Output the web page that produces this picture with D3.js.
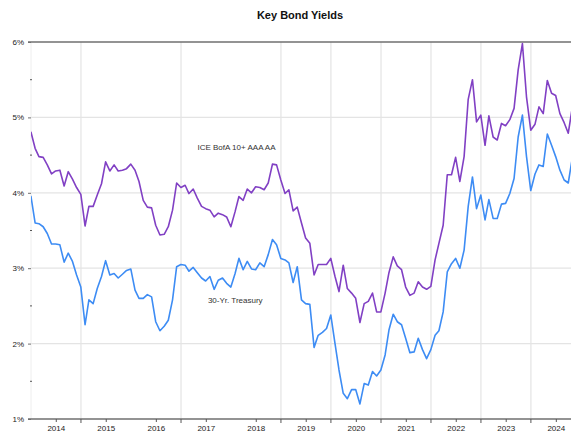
<!DOCTYPE html>
<html>
<head>
<meta charset="utf-8">
<script src="https://cdn.jsdelivr.net/npm/d3@7"></script>
<style>
  body { margin: 0; background: #fff; }
  text { font-family: "Liberation Sans", Arial, sans-serif; }
</style>
</head>
<body>
<svg id="chart" width="571" height="432"></svg>
<script>

// month-end yields, Dec 2013 .. Oct 2024
const iceBofa = [
  4.81, 4.59, 4.48, 4.47, 4.37, 4.25, 4.29, 4.30, 4.09, 4.28, 4.18, 4.07,
  3.98, 3.56, 3.82, 3.82, 3.97, 4.12, 4.41, 4.29, 4.37, 4.29, 4.30, 4.32,
  4.38, 4.30, 4.15, 3.90, 3.81, 3.80, 3.57, 3.44, 3.45, 3.55, 3.77, 4.13,
  4.07, 4.10, 3.99, 4.05, 3.93, 3.82, 3.79, 3.77, 3.68, 3.73, 3.71, 3.68,
  3.55, 3.75, 3.95, 3.90, 4.05, 4.00, 4.08, 4.07, 4.04, 4.13, 4.38, 4.37,
  4.17, 3.99, 4.04, 3.76, 3.81, 3.60, 3.40, 3.33, 2.91, 3.05, 3.05, 3.05,
  3.13, 2.89, 2.69, 3.04, 2.73, 2.67, 2.60, 2.28, 2.53, 2.56, 2.67, 2.42,
  2.42, 2.67, 2.94, 3.15, 3.03, 2.98, 2.75, 2.64, 2.67, 2.82, 2.75, 2.72,
  2.76, 3.11, 3.33, 3.57, 4.24, 4.24, 4.47, 4.15, 4.48, 5.24, 5.50, 4.94,
  5.03, 4.63, 5.02, 4.74, 4.70, 4.92, 4.89, 4.97, 5.12, 5.63, 5.98, 5.27,
  4.83, 4.91, 5.14, 5.05, 5.49, 5.32, 5.29, 5.05, 4.93, 4.79, 5.15
];

const treasury30 = [
  3.96, 3.60, 3.59, 3.55, 3.46, 3.32, 3.32, 3.31, 3.08, 3.20, 3.09, 2.91,
  2.75, 2.25, 2.58, 2.53, 2.73, 2.89, 3.10, 2.91, 2.93, 2.87, 2.92, 2.97,
  2.99, 2.71, 2.60, 2.60, 2.65, 2.62, 2.29, 2.17, 2.23, 2.31, 2.58, 3.02,
  3.05, 3.04, 2.96, 3.01, 2.94, 2.87, 2.83, 2.89, 2.72, 2.84, 2.87, 2.80,
  2.75, 2.93, 3.13, 2.98, 3.09, 2.99, 2.98, 3.07, 3.02, 3.18, 3.38, 3.31,
  3.13, 3.11, 3.07, 2.81, 3.02, 2.58, 2.53, 2.52, 1.95, 2.11, 2.15, 2.20,
  2.38, 2.00, 1.65, 1.34, 1.27, 1.39, 1.39, 1.20, 1.47, 1.45, 1.63, 1.57,
  1.65, 1.85, 2.18, 2.39, 2.29, 2.25, 2.07, 1.88, 1.89, 2.07, 1.92, 1.80,
  1.92, 2.11, 2.17, 2.42, 2.95, 3.06, 3.13, 3.00, 3.24, 3.82, 4.21, 3.79,
  3.97, 3.64, 3.91, 3.66, 3.66, 3.85, 3.86, 3.99, 4.19, 4.74, 5.03, 4.48,
  4.03, 4.25, 4.37, 4.35, 4.78, 4.63, 4.48, 4.30, 4.17, 4.13, 4.48
];

const seriesNames = ["ICE BofA 10+ AAA AA", "30-Yr. Treasury"];
const seriesColors = ["#8140c4", "#3d8cf4"];
const yearLabels = [2014, 2015, 2016, 2017, 2018, 2019, 2020, 2021, 2022, 2023, 2024];
const gridYears = [2015, 2017, 2019, 2020, 2021, 2022, 2023, 2024];
const yTicks = [1, 2, 3, 4, 5, 6];
const yMinor = [1.5, 2.5, 3.5, 4.5, 5.5];

// month-end dates: new Date(2014, i, 0) is the last day of the previous month
const dates = iceBofa.map((d, i) => new Date(2014, i, 0));

const svg = d3.select("#chart");
const plotLeft = 31, plotRight = 571, plotTop = 42, plotBottom = 419;

const x = d3.scaleTime()
        .domain([new Date(2014, 0, 1), new Date(2025, 0, 1)])
        .range([plotLeft, plotLeft + 550]);
const y = d3.scaleLinear().domain([1, 6]).range([plotBottom, plotTop]);

svg.append("defs").append("clipPath").attr("id", "plot")
        .append("rect")
        .attr("x", plotLeft).attr("y", 0)
        .attr("width", plotRight - plotLeft).attr("height", 432);

// grid
svg.append("g")
        .selectAll("line")
        .data(gridYears)
        .join("line")
        .attr("x1", d => x(new Date(d, 0, 1))).attr("x2", d => x(new Date(d, 0, 1)))
        .attr("y1", plotTop).attr("y2", plotBottom)
        .attr("stroke", "#e4e4e4").attr("stroke-width", 1.2)

svg.append("g")
        .selectAll("line")
        .data(yTicks.filter(d => d > 1 && d < 6))
        .join("line")
        .attr("x1", plotLeft).attr("x2", plotRight)
        .attr("y1", d => y(d)).attr("y2", d => y(d))
        .attr("stroke", "#e4e4e4").attr("stroke-width", 1.2)

svg.append("line")
        .attr("x1", plotLeft).attr("x2", plotLeft).attr("y1", plotTop).attr("y2", plotBottom)
        .attr("stroke", "#eeeeee")

// top and bottom frame lines
svg.selectAll(".frame")
        .data([1, 6])
        .join("line")
        .attr("class", "frame")
        .attr("x1", plotLeft - 3).attr("x2", plotRight)
        .attr("y1", d => y(d)).attr("y2", d => y(d))
        .attr("stroke", "#6f6f6f").attr("stroke-width", 1.4)

// y axis
const yAxis = svg.append("g")
        .attr("transform", `translate(${plotLeft}, 0)`)
        .call(d3.axisLeft(y).tickValues(yTicks).tickFormat(d => d + "%").tickSize(3).tickPadding(4))
yAxis.select(".domain").remove()
yAxis.selectAll("line").attr("stroke", "#6f6f6f")
yAxis.selectAll("text").attr("font-size", 8).attr("fill", "#222").attr("font-family", "Liberation Sans, Arial, sans-serif")

svg.append("g")
        .selectAll("line")
        .data(yMinor)
        .join("line")
        .attr("x1", plotLeft - 1).attr("x2", plotLeft + 1)
        .attr("y1", d => y(d)).attr("y2", d => y(d))
        .attr("stroke", "#555")

// x axis: labels mid-year, ticks mid-year and on grid years
const xAxis = svg.append("g")
        .attr("transform", `translate(0, ${plotBottom})`)
        .call(d3.axisBottom(x)
                .tickValues(yearLabels.map(d => new Date(d, 6, 1)))
                .tickFormat(d3.timeFormat("%Y"))
                .tickSize(3).tickPadding(3))
xAxis.select(".domain").remove()
xAxis.selectAll("line").attr("stroke", "#555")
xAxis.selectAll("text").attr("font-size", 8).attr("fill", "#222").attr("font-family", "Liberation Sans, Arial, sans-serif")

svg.append("g")
        .selectAll("line")
        .data(gridYears)
        .join("line")
        .attr("x1", d => x(new Date(d, 0, 1))).attr("x2", d => x(new Date(d, 0, 1)))
        .attr("y1", plotBottom).attr("y2", plotBottom + 4)
        .attr("stroke", "#555")

// lines
const line = d3.line()
        .x((d, i) => x(dates[i]))
        .y(d => y(d))

const lines = svg.append("g").attr("clip-path", "url(#plot)")

;[iceBofa, treasury30].forEach((s, idx) => {
        lines.append("path")
                .datum(s)
                .attr("d", line)
                .attr("fill", "none")
                .attr("stroke", seriesColors[idx])
                .attr("stroke-width", 1.6)
                .attr("stroke-linejoin", "round")
})

// series labels
const labelAt = [[new Date(2018, 1, 10), 4.6], [new Date(2018, 1, 1), 2.58]]

svg.append("g")
        .selectAll("text")
        .data(seriesNames)
        .join("text")
        .attr("x", (d, i) => x(labelAt[i][0]))
        .attr("y", (d, i) => y(labelAt[i][1]))
        .attr("dy", "0.35em")
        .attr("text-anchor", "middle")
        .attr("font-size", 8)
        .attr("fill", "#333")
        .text(d => d)

svg.append("text")
        .attr("x", 300).attr("y", 19)
        .attr("text-anchor", "middle")
        .attr("font-size", 11).attr("font-weight", "bold")
        .attr("fill", "#111")
        .text("Key Bond Yields")

</script>
</body>
</html>
